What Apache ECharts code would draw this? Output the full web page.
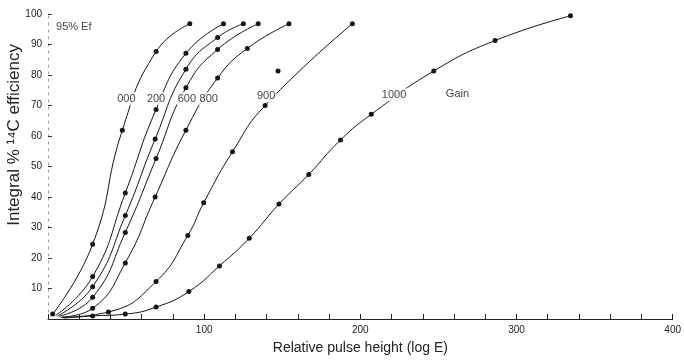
<!DOCTYPE html>
<html>
<head>
<meta charset="utf-8">
<script src="https://cdn.jsdelivr.net/npm/echarts@6/dist/echarts.min.js"></script>
<style>html,body{margin:0;padding:0;background:#fff;}#c{width:684px;height:360px;}</style>
</head>
<body>
<div id="c"></div>
<script>
// ---- data ----
const curveNames = ['000', '400', '600', '800', '800b', '900', '1000'];
const aX = [3, 28.6, 47.6, 69.2, 90.8];
const aY = [1.6, 24.5, 61.9, 87.7, 96.8];
const bX = [5, 28.6, 49.5, 69.2, 88.3, 112.4];
const bY = [1.2, 13.9, 41.3, 68.7, 87.1, 96.8];
const cX = [6, 28.6, 49.5, 68.6, 88.3, 108.6, 125.1];
const cY = [1.0, 10.6, 33.9, 59.0, 81.9, 92.3, 96.8];
const dX = [7, 28.6, 49.5, 69.2, 88.3, 108.6, 134.6];
const dY = [0.9, 7.1, 28.4, 52.6, 75.8, 88.4, 96.8];
const eX = [9, 28.6, 49.5, 68.6, 88.3, 108.6, 127.6, 154.3];
const eY = [0.7, 3.5, 18.4, 40.0, 61.9, 79.0, 88.7, 96.8];
const fX = [8, 38.7, 69.2, 89.5, 99.7, 118.1, 139.0, 194.9];
const fY = [0.5, 2.3, 12.3, 27.4, 38.1, 54.8, 70.0, 96.8];
const fExtraX = [147.3];
const fExtraY = [81.3];
const gX = [10, 28.6, 49.5, 69.2, 90.2, 109.8, 128.9, 147.9, 167.0, 187.3, 207.0, 247.0, 286.3, 334.6];
const gY = [0.3, 1.0, 1.6, 3.9, 9.0, 17.4, 26.5, 37.7, 47.4, 58.7, 67.1, 81.3, 91.3, 99.4];
const xTicks = [100, 200, 300, 400];
const yTicks = [10, 20, 30, 40, 50, 60, 70, 80, 90, 100];
const annText = ['000', '200', '600', '800', '900', '1000', 'Gain', '95% Ef'];
const annX = [50.2, 69.2, 88.9, 102.9, 139.7, 221.6, 262.2, 16.5];
const annY = [72.3, 72.3, 72.3, 72.3, 73.2, 73.5, 73.9, 95.8];

// ---- build ----
const zip = (xs, ys) => xs.map((x, i) => [x, ys[i]]);
const curves = [[aX, aY], [bX, bY], [cX, cY], [dX, dY], [eX, eY], [fX, fY], [gX, gY]];
const ink = '#151515';
const series = curves.map((c, i) => ({
  name: curveNames[i],
  type: 'line',
  smooth: 0.5,
  data: zip(c[0], c[1]).map((p, j) => (j === 0 && i > 0) ? { value: p, symbol: 'none' } : p),
  symbol: 'circle',
  symbolSize: 5,
  showAllSymbol: true,
  lineStyle: { color: ink, width: 1 },
  itemStyle: { color: ink },
  z: 2,
  animation: false
}));
series.push({
  type: 'scatter',
  data: zip(fExtraX, fExtraY),
  symbol: 'circle',
  symbolSize: 5,
  itemStyle: { color: ink, opacity: 1 },
  animation: false
});
series.push({
  type: 'scatter',
  data: annText.map((t, i) => ({ value: [annX[i], annY[i]], name: t })),
  symbolSize: 0,
  z: 5,
  label: {
    show: true,
    position: 'inside',
    formatter: p => p.name,
    fontFamily: 'Liberation Sans, Arial, sans-serif',
    fontSize: 11,
    color: '#111',
    backgroundColor: '#fff',
    padding: [1, 1]
  },
  animation: false
});

const chart = echarts.init(document.getElementById('c'), null, { renderer: 'canvas' });
chart.setOption({
  backgroundColor: '#fff',
  animation: false,
  grid: { left: 48, right: 11, top: 14, bottom: 36, containLabel: false },
  xAxis: {
    type: 'value', min: 0, max: 400, interval: 20,
    name: 'Relative pulse height (log E)',
    nameLocation: 'middle', nameGap: 22,
    nameTextStyle: { fontFamily: 'Liberation Sans, Arial, sans-serif', fontSize: 14, color: '#222' },
    axisLine: { lineStyle: { color: '#222', width: 1 } },
    axisTick: { inside: true, length: 5, lineStyle: { color: '#222' } },
    axisLabel: {
      fontFamily: 'Liberation Sans, Arial, sans-serif', fontSize: 10, color: '#222', margin: 6,
      formatter: v => xTicks.indexOf(v) >= 0 ? String(v) : ''
    },
    splitLine: { show: false }
  },
  yAxis: {
    type: 'value', min: 0, max: 100, interval: 10,
    axisLine: { show: true, lineStyle: { color: '#999', width: 1, type: [2, 5] } },
    axisTick: { show: true, inside: true, length: 4, lineStyle: { color: '#333' } },
    axisLabel: {
      fontFamily: 'Liberation Sans, Arial, sans-serif', fontSize: 10, color: '#222', margin: 6,
      formatter: v => yTicks.indexOf(v) >= 0 ? String(v) : ''
    },
    splitLine: { show: false }
  },
  graphic: [{
    type: 'text',
    left: 6, top: 44,
    rotation: Math.PI / 2,
    style: {
      text: 'Integral % \u00B9\u2074C efficiency',
      font: '17px "Liberation Sans", Arial, sans-serif',
      fill: '#222'
    }
  }],
  series: series
});
</script>
</body>
</html>
